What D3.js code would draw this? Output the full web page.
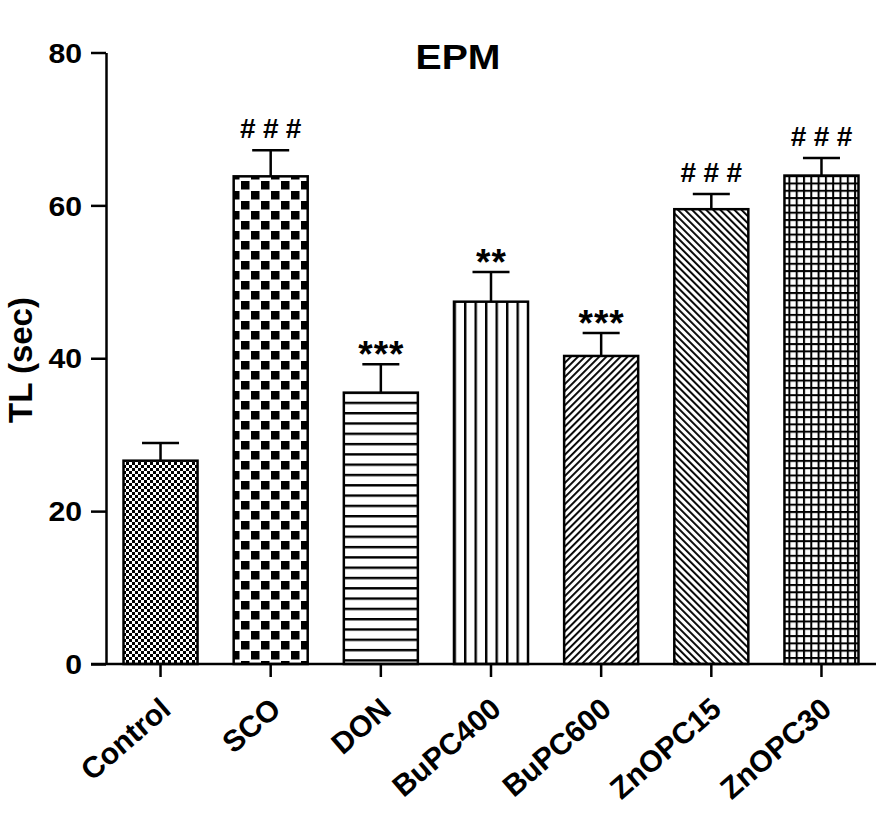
<!DOCTYPE html>
<html>
<head>
<meta charset="utf-8">
<script src="https://cdn.jsdelivr.net/npm/d3@7"></script>
<style>
    body { margin: 0; background: #fff; }
    text { font-family: "Liberation Sans", Arial, sans-serif; fill: #000; }
</style>
</head>
<body>
<div id="chart"></div>
<script>
var groups = ['Control', 'SCO', 'DON', 'BuPC400', 'BuPC600', 'ZnOPC15', 'ZnOPC30'],
    means = [26.6, 63.8, 35.5, 47.4, 40.3, 59.5, 63.9],
    sems = [2.3, 3.4, 3.7, 3.9, 3.0, 2.0, 2.3],
    marks = ['', '###', '***', '**', '***', '###', '###'],
    yTicks = [0, 20, 40, 60, 80];

(function() {
    var width = 891,
        height = 833,
        mLeft = 106,
        mTop = 52.5,
        mBottom = 664,
        mRight = 876,
        svg = d3.select('#chart').append('svg')
            .attr('width', width)
            .attr('height', height),
        defs = svg.append('defs'),
        yScale = d3.scaleLinear().domain([0, 80]).range([mBottom, mTop]),
        xScale = d3.scaleBand()
            .domain(groups)
            .range([mLeft, mRight])
            .paddingInner(0.328)
            .paddingOuter(0.159);

    // fill patterns, one per group (Prism style hatching)
    var pat;
    pat = defs.append('pattern').attr('id', 'p0')
        .attr('patternUnits', 'userSpaceOnUse').attr('width', 6).attr('height', 6);
    pat.append('rect').attr('width', 6).attr('height', 6).attr('fill', '#fff');
    pat.append('rect').attr('width', 3).attr('height', 3).attr('fill', '#000');
    pat.append('rect').attr('x', 3).attr('y', 3).attr('width', 3).attr('height', 3).attr('fill', '#000');

    pat = defs.append('pattern').attr('id', 'p1')
        .attr('patternUnits', 'userSpaceOnUse').attr('width', 20).attr('height', 20);
    pat.append('rect').attr('width', 20).attr('height', 20).attr('fill', '#fff');
    pat.append('rect').attr('x', 1).attr('y', 1).attr('width', 8.5).attr('height', 8.5).attr('fill', '#000');
    pat.append('rect').attr('x', 11).attr('y', 11).attr('width', 8.5).attr('height', 8.5).attr('fill', '#000');

    pat = defs.append('pattern').attr('id', 'p2')
        .attr('patternUnits', 'userSpaceOnUse').attr('width', 10).attr('height', 10.3);
    pat.append('rect').attr('width', 10).attr('height', 10.3).attr('fill', '#fff');
    pat.append('rect').attr('y', 0).attr('width', 10).attr('height', 2.4).attr('fill', '#000');

    pat = defs.append('pattern').attr('id', 'p3')
        .attr('patternUnits', 'userSpaceOnUse').attr('width', 10.5).attr('height', 10)
        .attr('x', 2);
    pat.append('rect').attr('width', 10.5).attr('height', 10).attr('fill', '#fff');
    pat.append('rect').attr('x', 0).attr('width', 2.4).attr('height', 10).attr('fill', '#000');

    [['p4', 45], ['p5', -45]].forEach(function(p) {
        var h = defs.append('pattern').attr('id', p[0])
            .attr('patternUnits', 'userSpaceOnUse').attr('width', 5).attr('height', 5)
            .attr('patternTransform', 'rotate(' + p[1] + ')');
        h.append('rect').attr('width', 5).attr('height', 5).attr('fill', '#fff');
        h.append('rect').attr('width', 1.9).attr('height', 5).attr('fill', '#000');
    });

    pat = defs.append('pattern').attr('id', 'p6')
        .attr('patternUnits', 'userSpaceOnUse').attr('width', 7.3).attr('height', 7.3);
    pat.append('rect').attr('width', 7.3).attr('height', 7.3).attr('fill', '#fff');
    pat.append('rect').attr('width', 2).attr('height', 7.3).attr('fill', '#000');
    pat.append('rect').attr('width', 7.3).attr('height', 2).attr('fill', '#000');

    var chart = svg.append('g');

    // y axis
    var yAxis = d3.axisLeft(yScale)
        .tickValues(yTicks)
        .tickSize(15)
        .tickSizeOuter(0)
        .tickPadding(9);

    var yy = chart.append('g')
        .attr('transform', 'translate(' + mLeft + ',0)')
        .call(yAxis);

    yy.selectAll('path, line')
        .attr('stroke', '#000')
        .attr('stroke-width', 2.5);

    yy.selectAll('text')
        .style('font-size', '27px')
        .style('font-weight', 'bold')
        .attr('dy', '0.36em')
        .attr('transform', 'scale(1.12,1)')
        .attr('x', -24 / 1.12);

    // bars
    var bars = chart.append('g').selectAll('.bar')
        .data(groups)
        .enter()
        .append('g')
        .attr('class', 'bar');

    var bw = xScale.bandwidth();

    bars.append('line')
        .attr('x1', function(d) { return xScale(d) + bw / 2; })
        .attr('x2', function(d) { return xScale(d) + bw / 2; })
        .attr('y1', function(d, i) { return yScale(means[i]); })
        .attr('y2', function(d, i) { return yScale(means[i] + sems[i]); })
        .attr('stroke', '#000')
        .attr('stroke-width', 2.5);

    bars.append('line')
        .attr('x1', function(d) { return xScale(d) + bw / 4; })
        .attr('x2', function(d) { return xScale(d) + bw * 3 / 4; })
        .attr('y1', function(d, i) { return yScale(means[i] + sems[i]); })
        .attr('y2', function(d, i) { return yScale(means[i] + sems[i]); })
        .attr('stroke', '#000')
        .attr('stroke-width', 2.5);

    bars.append('rect')
        .attr('x', function(d) { return xScale(d); })
        .attr('y', function(d, i) { return yScale(means[i]); })
        .attr('width', bw)
        .attr('height', function(d, i) { return mBottom - yScale(means[i]); })
        .attr('fill', function(d, i) { return 'url(#p' + i + ')'; })
        .attr('stroke', '#000')
        .attr('stroke-width', 2.5);

    // significance marks: hashes vs. control, stars vs. SCO
    var isHash = function(i) { return marks[i].charAt(0) === '#'; };

    bars.append('text')
        .attr('x', function(d, i) { return xScale(d) + bw / 2 + (isHash(i) ? 3.7 : 0.5); })
        .attr('y', function(d, i) {
            var errTop = yScale(means[i] + sems[i]);
            return isHash(i) ? errTop - 12 : errTop + 3;
        })
        .attr('text-anchor', 'middle')
        .style('font-size', function(d, i) { return isHash(i) ? '28px' : '37px'; })
        .style('font-weight', 'bold')
        .style('letter-spacing', function(d, i) { return isHash(i) ? '7.4px' : '1px'; })
        .text(function(d, i) { return marks[i]; });

    // x axis
    var xAxis = d3.axisBottom(xScale)
        .tickSize(13)
        .tickSizeOuter(0);

    var xx = chart.append('g')
        .attr('transform', 'translate(0,' + mBottom + ')')
        .call(xAxis);

    xx.select('.domain')
        .attr('d', 'M91,0H' + mRight);

    xx.selectAll('path, line')
        .attr('stroke', '#000')
        .attr('stroke-width', 2.5);

    xx.selectAll('text')
        .style('font-size', '30px')
        .style('font-weight', 'bold')
        .attr('text-anchor', 'end')
        .attr('x', 0)
        .attr('y', 0)
        .attr('dy', '0.35em')
        .attr('transform', 'translate(5,40) rotate(-41)');

    // title and y label
    chart.append('text')
        .attr('x', 458)
        .attr('y', 69)
        .attr('text-anchor', 'middle')
        .style('font-size', '35px')
        .style('font-weight', 'bold')
        .attr('transform', 'translate(458,0) scale(1.12,1) translate(-458,0)')
        .text('EPM');

    chart.append('text')
        .attr('transform', 'translate(32,360) rotate(-90)')
        .attr('text-anchor', 'middle')
        .style('font-size', '33px')
        .style('font-weight', 'bold')
        .text('TL (sec)');
})();
</script>
</body>
</html>
